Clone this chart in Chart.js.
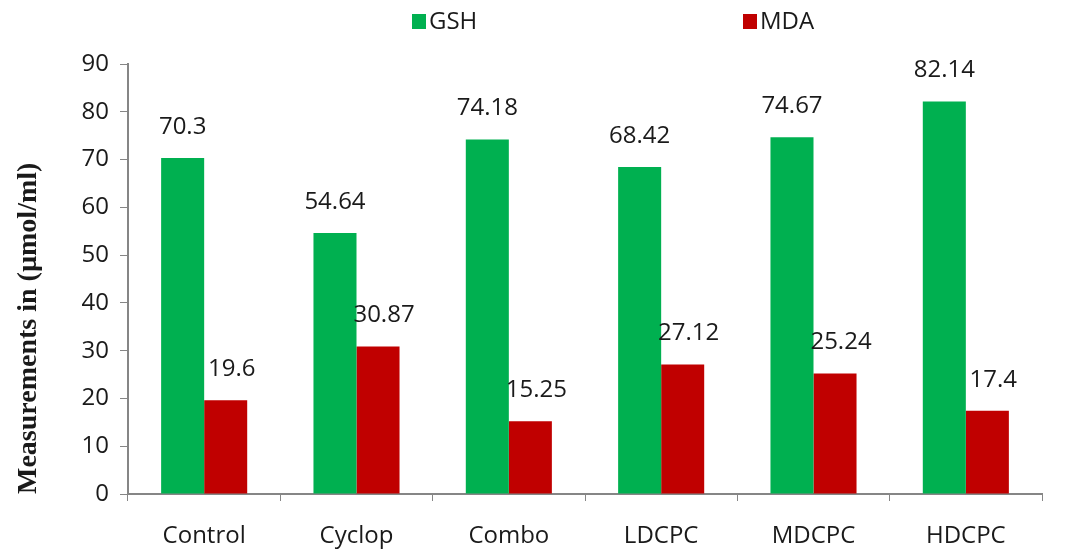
<!DOCTYPE html>
<html>
<head>
<meta charset="utf-8">
<script src="https://cdn.jsdelivr.net/npm/chart.js@4.4.1/dist/chart.umd.min.js"></script>
<style>
  html, body { margin: 0; padding: 0; background: #fff; }
  #wrap { width: 1071px; height: 555px; position: relative; }
</style>
</head>
<body>
<div id="wrap"><canvas id="chart"></canvas></div>
<script>
// === DATA ===
const categories = ['Control', 'Cyclop', 'Combo', 'LDCPC', 'MDCPC', 'HDCPC'];
const gshValues = [70.3, 54.64, 74.18, 68.42, 74.67, 82.14];
const mdaValues = [19.6, 30.87, 15.25, 27.12, 25.24, 17.4];
const yTicks = [0, 10, 20, 30, 40, 50, 60, 70, 80, 90];

const FONT = '"Open Sans", "Noto Sans", sans-serif';
const AXIS_GREY = '#868686';

// value labels above each bar
const valueLabels = {
  id: 'valueLabels',
  afterDatasetsDraw(chart) {
    const ctx = chart.ctx;
    ctx.save();
    ctx.font = '24px ' + FONT;
    ctx.fillStyle = '#1a1a1a';
    ctx.textAlign = 'center';
    ctx.textBaseline = 'bottom';
    chart.data.datasets.forEach((ds, i) => {
      chart.getDatasetMeta(i).data.forEach((bar, j) => {
        ctx.fillText(String(ds.data[j]), bar.x + (i === 1 ? 6 : 0), bar.y - 19);
      });
    });
    ctx.restore();
  }
};

// legend drawn by hand so the spacing matches
const topLegend = {
  id: 'topLegend',
  afterDraw(chart) {
    const ctx = chart.ctx;
    const starts = [412, 743];
    ctx.save();
    ctx.font = '24px ' + FONT;
    ctx.textBaseline = 'middle';
    ctx.textAlign = 'left';
    chart.data.datasets.forEach((ds, i) => {
      const x = starts[i];
      ctx.fillStyle = ds.backgroundColor;
      ctx.fillRect(x, 14, 14, 15);
      ctx.fillStyle = '#1a1a1a';
      ctx.fillText(ds.label, x + 17, 22);
    });
    ctx.restore();
  }
};

new Chart(document.getElementById('chart'), {
  type: 'bar',
  data: {
    labels: categories,
    datasets: [
      { label: 'GSH', data: gshValues, backgroundColor: '#00B050', borderWidth: 0 },
      { label: 'MDA', data: mdaValues, backgroundColor: '#C00000', borderWidth: 0 }
    ]
  },
  options: {
    responsive: true,
    maintainAspectRatio: false,
    animation: false,
    layout: { padding: { top: 64, right: 29, left: 0, bottom: 0 } },
    datasets: { bar: { barPercentage: 1, categoryPercentage: 0.565 } },
    plugins: {
      legend: { display: false },
      tooltip: { enabled: false }
    },
    scales: {
      x: {
        grid: { display: true, drawOnChartArea: false, color: AXIS_GREY, tickLength: 7, offset: true },
        border: { color: AXIS_GREY, width: 2 },
        ticks: { color: '#1a1a1a', font: { family: FONT, size: 24 }, padding: 21 },
        afterFit(scale) { scale.height = 61; }
      },
      y: {
        min: 0, max: 90,
        afterBuildTicks(scale) { scale.ticks = yTicks.map(v => ({ value: v })); },
        grid: { display: true, drawOnChartArea: false, color: AXIS_GREY, tickLength: 8 },
        border: { color: AXIS_GREY, width: 2 },
        ticks: { color: '#1a1a1a', font: { family: FONT, size: 24 }, padding: 11 },
        title: {
          display: true,
          text: 'Measurements in (µmol/ml)',
          align: 'start',
          color: '#1a1a1a',
          font: { family: '"Liberation Serif", "Times New Roman", serif', size: 28, weight: 'bold' },
          padding: { top: 12, bottom: 0 }
        },
        afterFit(scale) { scale.width = 128; }
      }
    }
  },
  plugins: [valueLabels, topLegend]
});
</script>
</body>
</html>
